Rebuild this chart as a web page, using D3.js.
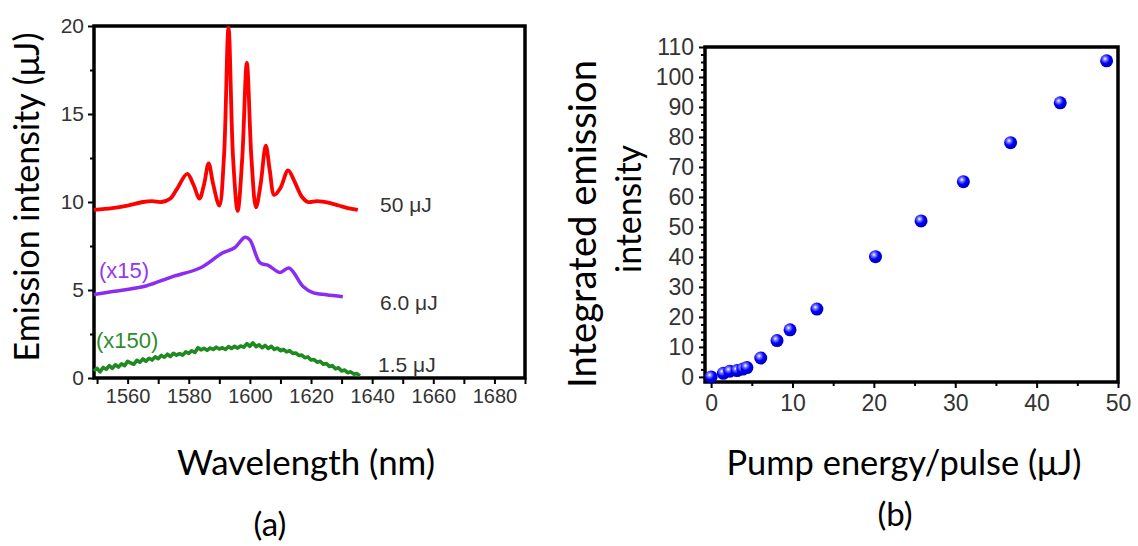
<!DOCTYPE html>
<html lang="en">
<head><meta charset="utf-8"/>
<script src="https://cdn.jsdelivr.net/npm/d3@7"></script>
<style>
body { margin: 0; background: #fff; }
.axis text { font-family: "Liberation Sans", Arial, sans-serif; fill: #333; }
.axis line { stroke: #000; stroke-width: 2px; }
.axis .domain { display: none; }
.lab { font-family: Lato, "Open Sans", sans-serif; fill: #000; }
.note { font-family: "Liberation Sans", Arial, sans-serif; }
</style>
</head>
<body>
<svg id="fig" width="1138" height="546"></svg>
<script>

// ---- panel (a): emission spectra ----
var redWl  = [1549, 1555, 1560, 1565, 1568, 1571, 1574, 1576, 1579.5, 1581.5, 1583.5, 1585, 1586.5, 1588, 1590,
	1591.5, 1593, 1594.5, 1596, 1597.5, 1599, 1600.5, 1602, 1603.5, 1605.2, 1606.5, 1608, 1610, 1612.5,
	1614.5, 1617, 1619, 1622, 1626, 1629, 1632, 1635.3];
var redVal = [9.55, 9.65, 9.8, 10.0, 10.05, 10.0, 10.2, 10.7, 11.6, 11.0, 10.2, 11.0, 12.2, 11.0, 9.8,
	12.5, 19.9, 12.5, 9.5, 12.5, 17.9, 12.5, 9.7, 11.0, 13.2, 11.8, 10.4, 10.8, 11.8,
	11.2, 10.3, 10.0, 10.05, 9.95, 9.8, 9.65, 9.55];

var purpleWl  = [1549, 1554.6, 1566, 1574.5, 1583.7, 1591, 1595, 1598.4, 1600, 1603.3, 1606, 1609.8, 1612.8,
	1617.4, 1620.6, 1625, 1630.4];
var purpleVal = [4.75, 4.9, 5.23, 5.75, 6.25, 7.1, 7.4, 8.0, 7.85, 6.55, 6.4, 6.0, 6.25,
	5.2, 4.85, 4.73, 4.62];

var greenWl = [1549, 1550, 1551, 1552, 1553, 1554, 1555, 1556, 1557, 1558, 1559, 1560, 1561, 1562, 1563, 1564,
	1565, 1566, 1567, 1568, 1569, 1570, 1571, 1572, 1573, 1574, 1575, 1576, 1577, 1578, 1579, 1580,
	1581, 1582, 1583, 1584, 1585, 1586, 1587, 1588, 1589, 1590, 1591, 1592, 1593, 1594, 1595, 1596,
	1597, 1598, 1599, 1600, 1601, 1602, 1603, 1604, 1605, 1606, 1607, 1608, 1609, 1610, 1611, 1612,
	1613, 1614, 1615, 1616, 1617, 1618, 1619, 1620, 1621, 1622, 1623, 1624, 1625, 1626, 1627, 1628,
	1629, 1630, 1631, 1632, 1633, 1634, 1635, 1636];
var greenVal = [0.40, 0.55, 0.35, 0.60, 0.50, 0.70, 0.55, 0.75, 0.62, 0.80, 0.70, 0.95, 0.85, 0.78, 1.00, 0.90,
	1.08, 0.95, 1.12, 1.02, 1.20, 1.10, 1.28, 1.18, 1.35, 1.22, 1.40, 1.30, 1.38, 1.30, 1.48, 1.40,
	1.55, 1.45, 1.72, 1.60, 1.68, 1.58, 1.70, 1.62, 1.75, 1.65, 1.72, 1.62, 1.78, 1.68, 1.80, 1.70,
	1.82, 1.75, 1.95, 1.80, 2.00, 1.78, 1.88, 1.72, 1.85, 1.68, 1.80, 1.62, 1.70, 1.55, 1.62, 1.48,
	1.55, 1.40, 1.42, 1.28, 1.30, 1.15, 1.20, 1.02, 1.05, 0.90, 0.95, 0.78, 0.82, 0.65, 0.70, 0.52,
	0.58, 0.40, 0.45, 0.30, 0.35, 0.22, 0.25, 0.12];

var wlTicks = [1560, 1580, 1600, 1620, 1640, 1660, 1680];
var wlMinor = [1550, 1570, 1590, 1610, 1630, 1650, 1670, 1690];
var intTicks = [0, 5, 10, 15, 20];
var intMinor = [2.5, 7.5, 12.5, 17.5];

// ---- panel (b): integrated emission vs pump ----
var pump  = [0, 1.5, 2.3, 3.2, 3.9, 4.4, 6.1, 8.1, 9.7, 13.0, 20.2, 25.8, 31.0, 36.8, 42.9, 48.6];
var integ = [0, 1.2, 1.9, 2.1, 2.6, 3.1, 6.3, 12.1, 15.7, 22.6, 40.1, 52.0, 65.1, 78.1, 91.4, 105.4];

var pumpTicks = [0, 10, 20, 30, 40, 50];
var pumpMinor = [5, 15, 25, 35, 45];
var integTicks = [0, 10, 20, 30, 40, 50, 60, 70, 80, 90, 100, 110];
var integMinor = [2.5, 5, 7.5, 12.5, 15, 17.5, 22.5, 25, 27.5, 32.5, 35, 37.5, 42.5, 45, 47.5, 52.5, 55, 57.5,
	62.5, 65, 67.5, 72.5, 75, 77.5, 82.5, 85, 87.5, 92.5, 95, 97.5, 102.5, 105, 107.5];

var svg = d3.select("#fig");

// scale the font so the text spans the wanted length
function fit(t, len){
	var fs = parseFloat(t.style("font-size"));
	t.style("font-size", (fs * len / t.node().getComputedTextLength()) + "px");
	return t;
}

// ---------- (a) ----------
var xa = d3.scaleLinear().domain([1549, 1690]).range([94, 525]),
    ya = d3.scaleLinear().domain([0, 20]).range([378, 26]);

var ga = svg.append("g");

ga.append("g").attr("class", "axis").attr("transform", "translate(0,378)")
	.call(d3.axisBottom(xa).tickValues(wlMinor).tickSize(6).tickFormat(""));
ga.append("g").attr("class", "axis").attr("transform", "translate(0,378)")
	.call(d3.axisBottom(xa).tickValues(wlTicks).tickSize(6).tickPadding(5).tickFormat(d3.format("d")))
	.selectAll("text").style("font-size", "20px");
ga.append("g").attr("class", "axis").attr("transform", "translate(94,0)")
	.call(d3.axisLeft(ya).tickValues(intMinor).tickSize(4).tickFormat(""));
ga.append("g").attr("class", "axis").attr("transform", "translate(94,0)")
	.call(d3.axisLeft(ya).tickValues(intTicks).tickSize(6).tickPadding(4))
	.selectAll("text").style("font-size", "21px");

ga.append("rect").attr("x", xa(1549)).attr("y", ya(20))
	.attr("width", xa(1690) - xa(1549)).attr("height", ya(0) - ya(20))
	.attr("fill", "none").attr("stroke", "#000").attr("stroke-width", 3.5);

var smooth = d3.line().curve(d3.curveCatmullRom.alpha(0.5))
	.x(d => xa(d[0])).y(d => ya(d[1]));
var jagged = d3.line()
	.x(d => xa(d[0])).y(d => ya(d[1]));

var spectra = [
	{wl: greenWl, v: greenVal, c: "#1f8a1f", w: 3.6, l: jagged},
	{wl: purpleWl, v: purpleVal, c: "#8a2cf2", w: 3.5, l: smooth},
	{wl: redWl, v: redVal, c: "#ff0000", w: 3.8, l: smooth}
];
spectra.forEach(function(s){
	ga.append("path")
		.attr("d", s.l(s.wl.map((w, i) => [w, s.v[i]])))
		.attr("fill", "none").attr("stroke", s.c).attr("stroke-width", s.w)
		.attr("stroke-linejoin", "round");
});

ga.append("text").attr("class", "note").attr("x", 99).attr("y", 278)
	.style("font-size", "22px").attr("fill", "#9436f0").text("(x15)");
ga.append("text").attr("class", "note").attr("x", 96).attr("y", 348)
	.style("font-size", "22px").attr("fill", "#2e8b2e").text("(x150)");
ga.append("text").attr("class", "note").attr("x", 380).attr("y", 212)
	.style("font-size", "21px").attr("fill", "#333").text("50 μJ");
ga.append("text").attr("class", "note").attr("x", 380).attr("y", 310)
	.style("font-size", "21px").attr("fill", "#333").text("6.0 μJ");
ga.append("text").attr("class", "note").attr("x", 378).attr("y", 372)
	.style("font-size", "21px").attr("fill", "#333").text("1.5 μJ");

fit(ga.append("text").attr("class", "lab").attr("text-anchor", "middle")
	.attr("transform", "translate(39,197) rotate(-90)")
	.style("font-size", "34px").text("Emission intensity (μJ)"), 329);
fit(ga.append("text").attr("class", "lab").attr("text-anchor", "middle")
	.attr("x", 306).attr("y", 475)
	.style("font-size", "34px").text("Wavelength (nm)"), 258);
ga.append("text").attr("class", "lab").attr("text-anchor", "middle")
	.attr("x", 270).attr("y", 536)
	.style("font-size", "33px").text("(a)");

// ---------- (b) ----------
var xb = d3.scaleLinear().domain([-0.75, 50]).range([705, 1118]),
    yb = d3.scaleLinear().domain([-1.7, 110]).range([382, 47]);

var gb = svg.append("g");

var grad = svg.append("defs").append("radialGradient").attr("id", "ball")
	.attr("cx", "38%").attr("cy", "35%").attr("r", "65%");
grad.append("stop").attr("offset", "0%").attr("stop-color", "#ffffff");
grad.append("stop").attr("offset", "22%").attr("stop-color", "#8080ff");
grad.append("stop").attr("offset", "55%").attr("stop-color", "#0000ff");
grad.append("stop").attr("offset", "100%").attr("stop-color", "#0000b8");

gb.append("g").attr("class", "axis").attr("transform", "translate(0,382)")
	.call(d3.axisBottom(xb).tickValues(pumpMinor).tickSize(4).tickFormat(""));
gb.append("g").attr("class", "axis").attr("transform", "translate(0,382)")
	.call(d3.axisBottom(xb).tickValues(pumpTicks).tickSize(6).tickPadding(7))
	.selectAll("text").style("font-size", "23px");
gb.append("g").attr("class", "axis").attr("transform", "translate(705,0)")
	.call(d3.axisLeft(yb).tickValues(integMinor).tickSize(4).tickFormat(""));
gb.append("g").attr("class", "axis").attr("transform", "translate(705,0)")
	.call(d3.axisLeft(yb).tickValues(integTicks).tickSize(6).tickPadding(5))
	.selectAll("text").style("font-size", "23px");

gb.append("rect").attr("x", xb(-0.75)).attr("y", yb(110))
	.attr("width", xb(50) - xb(-0.75)).attr("height", yb(-1.7) - yb(110))
	.attr("fill", "none").attr("stroke", "#000").attr("stroke-width", 3.5);

gb.selectAll("circle.pt").data(pump).enter().append("circle")
	.attr("class", "pt")
	.attr("cx", d => xb(d)).attr("cy", (d, i) => yb(integ[i]))
	.attr("r", 6.5).attr("fill", "url(#ball)");

fit(gb.append("text").attr("class", "lab").attr("text-anchor", "middle")
	.attr("transform", "translate(596,224) rotate(-90)")
	.style("font-size", "34px").text("Integrated emission"), 328);
fit(gb.append("text").attr("class", "lab").attr("text-anchor", "middle")
	.attr("transform", "translate(641,209) rotate(-90)")
	.style("font-size", "34px").text("intensity"), 128);
fit(gb.append("text").attr("class", "lab").attr("text-anchor", "middle")
	.attr("x", 904).attr("y", 475)
	.style("font-size", "34px").text("Pump energy/pulse (μJ)"), 355);
gb.append("text").attr("class", "lab").attr("text-anchor", "middle")
	.attr("x", 895).attr("y", 526)
	.style("font-size", "33px").text("(b)");

</script>
</body>
</html>
